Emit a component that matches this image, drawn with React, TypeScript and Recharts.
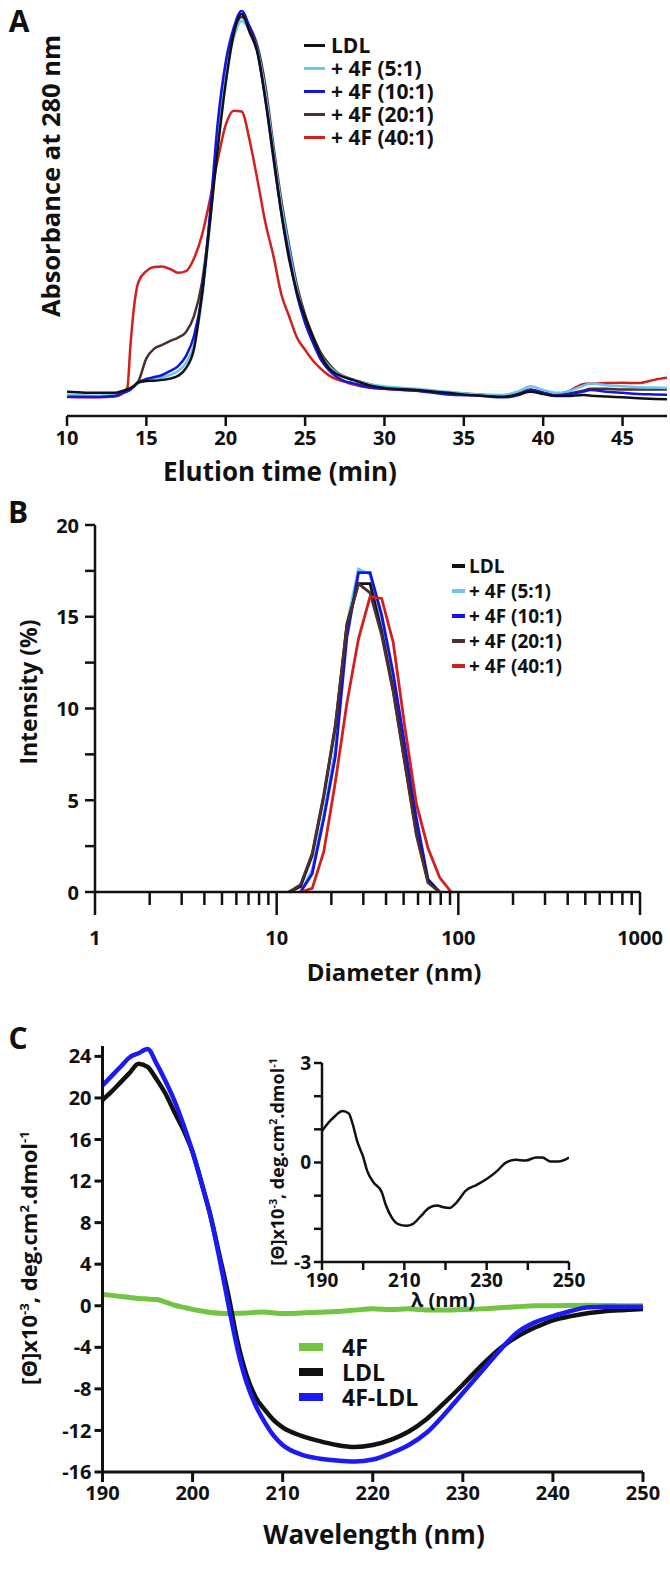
import { LineChart, Line, XAxis, YAxis } from "recharts";

const FONT = "'Open Sans', 'DejaVu Sans', sans-serif";
const INK = "#111111";

// ---- A: size-exclusion profiles (absorbance, arbitrary units) ----
const elutionTime = [10, 12, 13, 13.5, 13.8, 14, 14.2, 14.5, 15, 15.5, 16, 16.5, 17, 17.5, 18, 18.5, 19, 19.5, 20, 20.5, 21, 21.5, 22, 22.5, 23, 23.5, 24, 24.5, 25, 25.5, 26, 26.5, 27, 27.5, 28, 29, 30, 32, 34, 36, 37.5, 38.5, 39.2, 40, 40.8, 41.5, 42.5, 43, 44, 45, 46, 47, 47.8];
const absLDL = [6.0, 5.7, 5.7, 6.2, 6.6, 6.9, 7.4, 8.3, 8.6, 8.7, 8.9, 9.2, 9.9, 11.8, 16.5, 30, 47.5, 66, 82, 94, 99, 94.6, 89.4, 78, 64.3, 50, 38.5, 30.3, 24.4, 19.2, 14.8, 11.8, 10.3, 9.5, 8.9, 7.6, 6.9, 6.4, 5.7, 5.0, 4.75, 5.4, 6.0, 5.4, 4.9, 4.9, 5.2, 5.0, 4.8, 4.6, 4.4, 4.2, 4.1];
const abs4F5 = [5.2, 5.0, 5.2, 5.8, 6.3, 6.7, 7.3, 8.1, 8.9, 9.2, 9.5, 10.1, 11.1, 13.1, 17.5, 28.6, 47, 69.2, 84, 93.1, 97.3, 95, 90.1, 79.8, 65.5, 52, 40.9, 31, 24.1, 18.7, 14.8, 12.3, 10.6, 9.6, 8.9, 7.9, 7.3, 6.7, 6.0, 5.3, 5.2, 6.2, 7.3, 6.4, 5.7, 6.0, 7.4, 8.0, 7.6, 7.3, 7.1, 7.0, 6.9];
const abs4F10 = [4.75, 4.7, 4.9, 5.7, 6.1, 6.5, 7.2, 8.3, 9.1, 9.6, 10.1, 11.1, 12.3, 14.8, 19.7, 29.8, 49.5, 72.4, 87.2, 95.6, 99.8, 95.8, 89.7, 77.8, 63.5, 50.2, 39.4, 29.6, 22.9, 18, 13.8, 11.3, 9.6, 8.6, 8.1, 7.1, 6.7, 6.2, 5.3, 5.0, 4.6, 5.2, 6.4, 5.7, 5.0, 5.3, 6.0, 6.4, 6.0, 5.7, 5.4, 5.3, 5.2];
const abs4F20 = [4.9, 4.8, 5.0, 5.7, 6.2, 6.7, 7.3, 8.6, 14.2, 16.6, 17.5, 18.5, 19.3, 20.7, 24.6, 32.8, 48.3, 68.5, 84.5, 94.3, 98.3, 96, 91.1, 81.3, 66.7, 53.2, 41.9, 32, 24.9, 19.7, 15.5, 12.8, 10.8, 9.7, 9.0, 7.9, 7.0, 6.4, 5.8, 5.3, 4.9, 5.7, 6.5, 5.8, 5.3, 5.5, 6.2, 6.7, 6.7, 6.5, 6.5, 6.5, 6.5];
const abs4F40 = [4.7, 4.6, 4.8, 5.5, 6.9, 17.5, 26.1, 33, 35.7, 36.7, 36.8, 36.2, 35.3, 35.7, 38.8, 44.5, 53.2, 63.2, 71.7, 75.2, 75.0, 68, 58.1, 47.6, 39.5, 30, 24.5, 19.2, 16.3, 13.6, 11.6, 10.0, 9.0, 8.4, 7.8, 7.0, 6.7, 6.2, 5.7, 5.2, 4.8, 5.5, 6.4, 5.7, 5.2, 5.9, 7.8, 8.0, 8.1, 8.2, 8.1, 8.9, 9.4];
const elutionTicks = [10, 15, 20, 25, 30, 35, 40, 45];

// ---- B: DLS intensity distributions ----
const diameterBins = [11.7, 13.54, 15.69, 18.17, 21.04, 24.36, 28.21, 32.67, 37.84, 43.82, 50.75, 58.77, 68.06, 78.82, 91.28];
const dlsLDL = [0, 0.3, 2.0, 5.2, 9.0, 14.6, 16.8, 16.8, 14.2, 11.0, 7.1, 3.2, 0.6, 0, 0];
const dls4F5 = [0, 0, 1.2, 4.2, 7.8, 14.6, 17.6, 17.3, 14.8, 11.7, 7.7, 3.6, 0.6, 0, 0];
const dls4F10 = [0, 0, 1.0, 4.0, 7.4, 13.9, 17.4, 17.4, 15.1, 11.9, 8.0, 4.0, 0.7, 0, 0];
const dls4F20 = [0, 0.4, 2.1, 5.3, 9.1, 14.5, 16.8, 16.3, 14.0, 10.9, 7.0, 3.1, 0.5, 0, 0];
const dls4F40 = [0, 0, 0.2, 2.2, 6.0, 10.3, 13.8, 16.1, 16.0, 13.6, 9.0, 4.8, 2.4, 0.8, 0];
const diameterTicks = [1, 2, 3, 4, 5, 6, 7, 8, 9, 10, 20, 30, 40, 50, 60, 70, 80, 90, 100, 200, 300, 400, 500, 600, 700, 800, 900, 1000];
const intensityTicks = [0, 2.5, 5, 7.5, 10, 12.5, 15, 17.5, 20];

// ---- C: circular dichroism ----
const wavelength = [190, 191, 192, 193, 194, 195, 196, 197, 198, 199, 200, 201, 202, 203, 204, 205, 206, 207, 208, 209, 210, 212, 214, 216, 218, 220, 222, 224, 226, 228, 230, 232, 234, 236, 238, 240, 242, 244, 246, 248, 250];
const cd4F = [1.1, 1.0, 0.9, 0.8, 0.7, 0.65, 0.6, 0.35, 0.05, -0.15, -0.35, -0.5, -0.65, -0.72, -0.75, -0.72, -0.7, -0.62, -0.6, -0.7, -0.75, -0.7, -0.62, -0.55, -0.42, -0.3, -0.35, -0.3, -0.4, -0.42, -0.35, -0.3, -0.2, -0.1, 0, 0, 0.02, 0.05, 0.02, 0, 0];
const cdLDL = [19.8, 20.6, 21.5, 22.4, 23.3, 23.0, 21.8, 20.4, 18.6, 16.9, 14.8, 11.8, 8.6, 4.8, 0.9, -3.5, -6.7, -8.8, -10.0, -11.0, -11.7, -12.5, -13.0, -13.4, -13.6, -13.4, -12.9, -12.1, -10.9, -9.3, -7.6, -5.8, -4.2, -3.0, -2.1, -1.4, -1.0, -0.7, -0.5, -0.4, -0.3];
const cd4FLDL = [21.2, 22.1, 23.0, 23.9, 24.3, 24.7, 23.3, 21.6, 19.7, 17.4, 14.8, 11.8, 8.6, 4.5, 0, -4.2, -7.4, -9.6, -11.2, -12.5, -13.4, -14.3, -14.7, -14.9, -15.0, -14.8, -14.2, -13.4, -12.2, -10.4, -8.4, -6.4, -4.4, -2.6, -1.6, -1.0, -0.5, -0.15, -0.1, -0.1, -0.1];
const cdTicks = [-16, -12, -8, -4, 0, 4, 8, 12, 16, 20, 24];
const wavelengthTicks = [190, 200, 210, 220, 230, 240, 250];

// inset: 4F-LDL minus LDL
const insetWavelength = [190, 191.5, 193, 195, 196.5, 197.5, 198.5, 200, 201, 202.5, 204.5, 205.5, 207, 208.5, 210.5, 212, 214, 216, 218, 219.5, 221, 222.5, 225, 227.5, 230, 232.5, 234.5, 237, 239.5, 242, 243.5, 245.5, 247.5, 250];
const insetDiff = [0.95, 1.19, 1.38, 1.55, 1.48, 1.14, 0.66, 0.17, -0.26, -0.6, -0.89, -1.28, -1.67, -1.86, -1.91, -1.86, -1.62, -1.37, -1.3, -1.35, -1.37, -1.23, -0.84, -0.68, -0.5, -0.26, -0.02, 0.08, 0.06, 0.15, 0.15, 0.03, 0.03, 0.15];
const insetXTicks = [190, 200, 210, 220, 230, 240, 250];
const insetYTicks = [-3, -2, -1, 0, 1, 2, 3];

const ratioSeries = [
  { key: "ldl", name: "LDL", color: "#111111" },
  { key: "r5", name: "+ 4F (5:1)", color: "#6ac8ef" },
  { key: "r10", name: "+ 4F (10:1)", color: "#1414e0" },
  { key: "r20", name: "+ 4F (20:1)", color: "#4e2e2e" },
  { key: "r40", name: "+ 4F (40:1)", color: "#d41f1f" },
];

const cdSeries = [
  { key: "f4", name: "4F", color: "#72c442" },
  { key: "ldl", name: "LDL", color: "#111111" },
  { key: "mix", name: "4F-LDL", color: "#1a1af5" },
];

const secData = elutionTime.map((t, i) => ({
  t,
  ldl: absLDL[i],
  r5: abs4F5[i],
  r10: abs4F10[i],
  r20: abs4F20[i],
  r40: abs4F40[i],
}));

// keep one zero on each side of a peak so the lines stop on the axis
function trimmed(values: number[]) {
  let first = values.findIndex((v) => v > 0);
  let last = values.length - 1;
  while (last > 0 && values[last] === 0) last--;
  first = Math.max(0, first - 1);
  last = Math.min(values.length - 1, last + 1);
  const out: { d: number; v: number }[] = [];
  for (let i = first; i <= last; i++) out.push({ d: diameterBins[i], v: values[i] });
  return out;
}

const dlsData: Record<string, { d: number; v: number }[]> = {
  ldl: trimmed(dlsLDL),
  r5: trimmed(dls4F5),
  r10: trimmed(dls4F10),
  r20: trimmed(dls4F20),
  r40: trimmed(dls4F40),
};

const cdData = wavelength.map((w, i) => ({ w, f4: cd4F[i], ldl: cdLDL[i], mix: cd4FLDL[i] }));
const insetData = insetWavelength.map((w, i) => ({ w, v: insetDiff[i] }));

const tickFont = { fill: INK, fontSize: 20, fontWeight: 700, fontFamily: FONT };

function Txt({ x, y, size, rotate, start, children }: any) {
  const tx = start ? "0" : "-50%";
  return (
    <div
      style={{
        position: "absolute",
        left: x,
        top: y,
        fontSize: size,
        fontWeight: 700,
        fontFamily: FONT,
        color: INK,
        lineHeight: 1,
        whiteSpace: "nowrap",
        transform: `translate(${tx}, -50%)${rotate ? ` rotate(${rotate}deg)` : ""}`,
      }}
    >
      {children}
    </div>
  );
}

function LogTick({ x, y, payload }: any) {
  const v = payload.value;
  const major = v === 1 || v === 10 || v === 100 || v === 1000;
  return (
    <g>
      <line x1={x} x2={x} y1={y} y2={y + (major ? 23 : 13)} stroke={INK} strokeWidth={2.5} />
      {major && (
        <text x={x} y={y + 45} textAnchor="middle" dominantBaseline="central" style={tickFont}>
          {v}
        </text>
      )}
    </g>
  );
}

function IntensityTick({ x, y, payload }: any) {
  const v = payload.value;
  const major = v % 5 === 0;
  return (
    <g>
      <line x1={x} x2={x - 10} y1={y} y2={y} stroke={INK} strokeWidth={2.5} />
      {major && (
        <text x={x - 16} y={y} textAnchor="end" dominantBaseline="central" style={tickFont}>
          {v}
        </text>
      )}
    </g>
  );
}

const sup = { fontSize: "0.6em", verticalAlign: "super", lineHeight: 0 } as const;
function ThetaUnits() {
  return (
    <span>
      [Θ]x10<span style={sup}>-3</span>, deg.cm<span style={sup}>2</span>.dmol<span style={sup}>-1</span>
    </span>
  );
}

export default function App() {
  const drawOrderA = ["r40", "r20", "r5", "r10", "ldl"];
  const drawOrderB = ["r5", "r10", "ldl", "r20", "r40"];
  const byKey = (k: string) => ratioSeries.find((s) => s.key === k)!;

  return (
    <div style={{ position: "absolute", left: 0, top: 0, width: 670, height: 1590, background: "#fff", overflow: "hidden" }}>
      {/* A */}
      <div style={{ position: "absolute", left: 0, top: 0 }}>
        <LineChart width={670} height={490} data={secData} margin={{ top: 10, right: 3, bottom: 0, left: 67 }}>
          <XAxis
            dataKey="t"
            type="number"
            domain={[10, 47.8]}
            ticks={elutionTicks}
            interval={0}
            allowDataOverflow
            height={74}
            tickSize={10}
            tickMargin={5}
            axisLine={{ stroke: INK, strokeWidth: 2.5 }}
            tickLine={{ stroke: INK, strokeWidth: 2.5 }}
            tick={tickFont}
          />
          <YAxis hide domain={[0, 100]} allowDataOverflow />
          {drawOrderA.map((k) => (
            <Line key={k} dataKey={k} type="monotone" stroke={byKey(k).color} strokeWidth={2.5} dot={false} isAnimationActive={false} />
          ))}
        </LineChart>
      </div>
      <Txt x={19} y={21} size={30}>A</Txt>
      <Txt x={51} y={176} size={25.5} rotate={-90}>Absorbance at 280 nm</Txt>
      <Txt x={280} y={471} size={26}>Elution time (min)</Txt>
      {ratioSeries.map((s, i) => (
        <div key={s.key}>
          <div style={{ position: "absolute", left: 304, top: 45 + 23 * i - 1.5, width: 21, height: 3, background: s.color }} />
          <Txt x={331} y={45 + 23 * i} size={21} start>{s.name}</Txt>
        </div>
      ))}

      {/* B */}
      <div style={{ position: "absolute", left: 0, top: 480 }}>
        <LineChart width={670} height={540} margin={{ top: 45, right: 30, bottom: 0, left: 0 }}>
          <XAxis
            dataKey="d"
            type="number"
            scale="log"
            domain={[1, 1000]}
            ticks={diameterTicks}
            interval={0}
            allowDataOverflow
            height={128}
            tickSize={0}
            tickMargin={0}
            tickLine={false}
            axisLine={{ stroke: INK, strokeWidth: 2.5 }}
            tick={(p: any) => <LogTick {...p} />}
          />
          <YAxis
            type="number"
            domain={[0, 20]}
            ticks={intensityTicks}
            interval={0}
            allowDataOverflow
            width={95}
            tickSize={0}
            tickMargin={0}
            tickLine={false}
            axisLine={{ stroke: INK, strokeWidth: 2.5 }}
            tick={(p: any) => <IntensityTick {...p} />}
          />
          {drawOrderB.map((k) => (
            <Line key={k} data={dlsData[k]} dataKey="v" type="linear" stroke={byKey(k).color} strokeWidth={2.8} dot={false} isAnimationActive={false} />
          ))}
        </LineChart>
      </div>
      <Txt x={18} y={512} size={30}>B</Txt>
      <Txt x={28} y={692} size={23} rotate={-90}>Intensity (%)</Txt>
      <Txt x={394} y={972} size={24}>Diameter (nm)</Txt>
      {ratioSeries.map((s, i) => (
        <div key={s.key}>
          <div style={{ position: "absolute", left: 452, top: 566 + 25 * i - 1.75, width: 13, height: 3.5, background: s.color }} />
          <Txt x={469} y={566 + 25 * i} size={19} start>{s.name}</Txt>
        </div>
      ))}

      {/* C */}
      <div style={{ position: "absolute", left: 0, top: 1026 }}>
        <LineChart width={670} height={564} data={cdData} margin={{ top: 20, right: 27, bottom: 0, left: 0 }}>
          <XAxis
            dataKey="w"
            type="number"
            domain={[190, 250]}
            ticks={wavelengthTicks}
            interval={0}
            allowDataOverflow
            height={118}
            tickSize={10}
            tickMargin={4}
            axisLine={{ stroke: INK, strokeWidth: 3 }}
            tickLine={{ stroke: INK, strokeWidth: 3 }}
            tick={tickFont}
          />
          <YAxis
            type="number"
            domain={[-16, 25]}
            ticks={cdTicks}
            interval={0}
            allowDataOverflow
            width={102.5}
            tickSize={8}
            tickMargin={3}
            axisLine={{ stroke: INK, strokeWidth: 3 }}
            tickLine={{ stroke: INK, strokeWidth: 3 }}
            tick={tickFont}
          />
          {cdSeries.map((s) => (
            <Line key={s.key} dataKey={s.key} type="monotone" stroke={s.color} strokeWidth={s.key === "f4" ? 5 : 4.5} dot={false} isAnimationActive={false} />
          ))}
        </LineChart>
      </div>
      <div style={{ position: "absolute", left: 235, top: 1042 }}>
        <LineChart width={380} height={290} data={insetData} margin={{ top: 21, right: 46, bottom: 0, left: 0 }}>
          <XAxis
            dataKey="w"
            type="number"
            domain={[190, 250]}
            ticks={insetXTicks}
            interval={0}
            allowDataOverflow
            height={70}
            tickSize={8}
            tickMargin={4}
            axisLine={{ stroke: INK, strokeWidth: 2.5 }}
            tickLine={{ stroke: INK, strokeWidth: 2.5 }}
            tick={{ ...tickFont, fontSize: 19 }}
            tickFormatter={(v: number) => ((v - 190) % 20 === 0 ? String(v) : "")}
          />
          <YAxis
            type="number"
            domain={[-3, 3]}
            ticks={insetYTicks}
            interval={0}
            allowDataOverflow
            width={87}
            tickSize={8}
            tickMargin={3}
            axisLine={{ stroke: INK, strokeWidth: 2.5 }}
            tickLine={{ stroke: INK, strokeWidth: 2.5 }}
            tick={{ ...tickFont, fontSize: 19 }}
            tickFormatter={(v: number) => (v % 3 === 0 ? String(v) : "")}
          />
          <Line dataKey="v" type="monotone" stroke={INK} strokeWidth={2.5} dot={false} isAnimationActive={false} />
        </LineChart>
      </div>
      <Txt x={18} y={1038} size={30}>C</Txt>
      <Txt x={28} y={1258} size={22} rotate={-90}><ThetaUnits /></Txt>
      <Txt x={277} y={1162} size={18} rotate={-90}><ThetaUnits /></Txt>
      <Txt x={443} y={1300} size={20}>λ (nm)</Txt>
      <Txt x={374} y={1534} size={26}>Wavelength (nm)</Txt>
      {cdSeries.map((s, i) => (
        <div key={s.key}>
          <div style={{ position: "absolute", left: 299, top: 1347 + 25 * i - 4, width: 24, height: 8, background: s.color }} />
          <Txt x={342} y={1347 + 25 * i} size={23} start>{s.name}</Txt>
        </div>
      ))}
    </div>
  );
}
